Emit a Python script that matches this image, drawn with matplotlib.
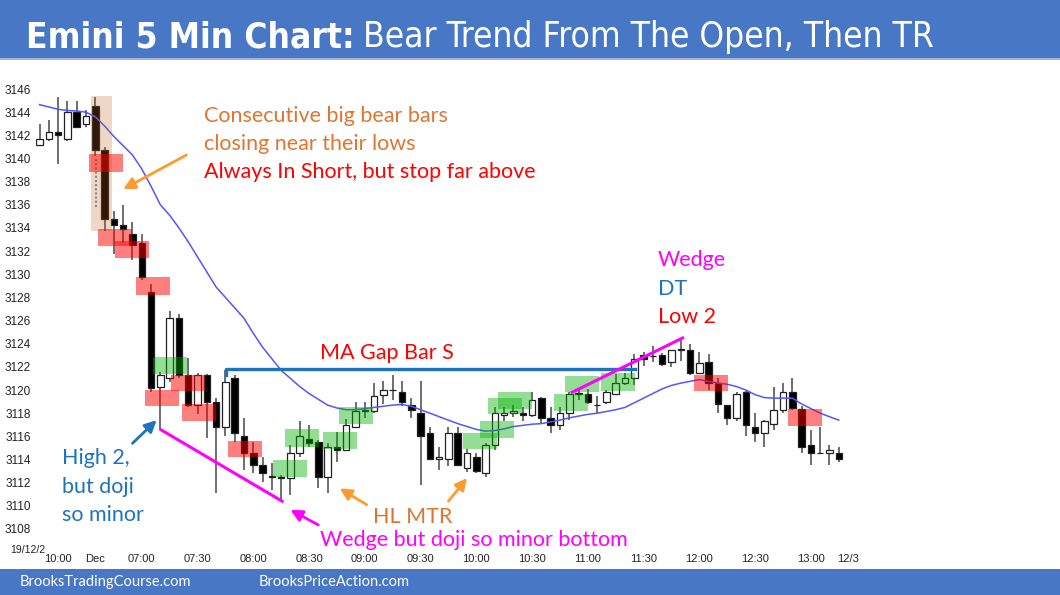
import matplotlib
matplotlib.use("Agg")
import matplotlib.pyplot as plt
from matplotlib import font_manager
from matplotlib.font_manager import FontProperties
from matplotlib.patches import Rectangle

# 5 min bars: 6 prior-session bars, then the Dec 2 day session
opens = [3141.2, 3141.7, 3142.3, 3141.7, 3144.0, 3143.0, 3144.5, 3140.7, 3134.75, 3134.25,
         3133.5, 3132.7, 3128.5, 3120.3, 3121.0, 3126.25, 3121.3, 3118.7, 3121.3, 3119.0,
         3116.85, 3121.0, 3116.0, 3114.55, 3113.55, 3112.5, 3112.4, 3112.4, 3114.6, 3115.75,
         3115.5, 3112.5, 3115.05, 3114.8, 3116.85, 3118.2, 3118.15, 3119.55, 3120.0, 3119.8,
         3118.75, 3118.0, 3116.25, 3114.05, 3114.05, 3116.25, 3113.25, 3114.25, 3112.8, 3115.25,
         3117.85, 3118.0, 3118.05, 3117.85, 3119.3, 3117.55, 3117.0, 3118.05, 3119.7, 3119.7,
         3118.7, 3119.0, 3119.7, 3120.6, 3121.0, 3123.0, 3122.9, 3123.0, 3122.45, 3123.5,
         3123.5, 3121.45, 3122.45, 3120.65, 3118.7, 3117.55, 3119.8, 3116.8, 3116.25, 3117.05,
         3118.25, 3119.8, 3118.35, 3115.25, 3114.55, 3114.55, 3114.55]
highs = [3143.0, 3143.3, 3145.3, 3145.0, 3145.0, 3144.2, 3145.3, 3141.0, 3135.5, 3136.0,
         3134.5, 3133.5, 3129.2, 3121.6, 3126.8, 3126.6, 3122.75, 3121.5, 3121.4, 3119.35,
         3121.75, 3121.3, 3117.55, 3115.55, 3114.25, 3113.7, 3112.7, 3115.25, 3117.3, 3117.0,
         3115.7, 3115.4, 3116.4, 3117.5, 3119.0, 3119.0, 3120.6, 3120.8, 3121.3, 3120.75,
         3119.3, 3120.75, 3116.85, 3115.1, 3116.85, 3116.85, 3114.9, 3114.55, 3115.4, 3118.55,
         3118.55, 3118.7, 3118.55, 3119.8, 3119.4, 3118.5, 3118.5, 3119.85, 3120.15, 3120.1,
         3119.5, 3120.0, 3121.4, 3121.5, 3123.15, 3123.3, 3123.8, 3123.2, 3123.5, 3124.5,
         3124.0, 3123.3, 3123.1, 3121.0, 3118.75, 3119.85, 3119.9, 3118.0, 3117.4, 3120.3,
         3120.65, 3121.0, 3118.6, 3116.55, 3116.85, 3115.25, 3115.05]
lows = [3141.2, 3141.5, 3139.5, 3141.5, 3142.7, 3142.7, 3140.2, 3133.7, 3131.75, 3132.7,
        3131.25, 3129.5, 3119.8, 3116.55, 3120.7, 3121.0, 3118.5, 3117.9, 3115.85, 3111.1,
        3116.0, 3115.55, 3113.1, 3112.8, 3112.1, 3111.4, 3110.4, 3110.95, 3114.25, 3115.1,
        3111.5, 3111.1, 3113.8, 3114.7, 3116.7, 3117.55, 3118.0, 3118.8, 3119.15, 3118.6,
        3117.55, 3111.8, 3114.0, 3113.1, 3113.4, 3113.4, 3112.95, 3112.8, 3112.5, 3114.8,
        3117.3, 3117.7, 3117.3, 3117.7, 3117.05, 3116.3, 3116.55, 3117.4, 3119.1, 3118.8,
        3118.0, 3118.8, 3119.6, 3120.45, 3120.45, 3122.1, 3122.45, 3122.1, 3122.0, 3122.55,
        3121.3, 3121.4, 3120.0, 3118.0, 3117.0, 3117.3, 3116.05, 3115.55, 3115.05, 3116.55,
        3118.0, 3118.3, 3114.55, 3113.55, 3114.5, 3113.55, 3113.8]
closes = [3141.7, 3142.3, 3142.0, 3144.0, 3142.75, 3143.7, 3140.75, 3134.8, 3134.25, 3133.9,
          3132.5, 3129.8, 3120.2, 3121.3, 3126.25, 3121.3, 3118.7, 3121.3, 3119.0, 3116.85,
          3120.7, 3116.25, 3114.55, 3113.55, 3112.8, 3112.5, 3112.45, 3114.55, 3116.0, 3115.45,
          3112.5, 3115.05, 3114.8, 3117.0, 3118.15, 3118.3, 3119.5, 3120.0, 3120.0, 3119.0,
          3118.25, 3116.0, 3114.05, 3114.25, 3116.25, 3113.55, 3114.55, 3113.0, 3115.25, 3118.0,
          3118.05, 3118.15, 3117.85, 3119.1, 3117.55, 3117.0, 3118.0, 3119.7, 3119.75, 3119.0,
          3118.75, 3119.8, 3120.6, 3121.0, 3122.65, 3122.7, 3122.9, 3122.25, 3123.45, 3123.5,
          3121.5, 3122.3, 3120.6, 3118.8, 3117.55, 3119.7, 3117.0, 3116.25, 3117.3, 3118.25,
          3119.8, 3118.45, 3115.05, 3114.55, 3114.55, 3114.8, 3114.05]
ma20 = [3144.65, 3144.45, 3144.25, 3144.15, 3144.1, 3144.0, 3143.6, 3142.8, 3141.9, 3141.1,
        3140.3, 3139.1, 3137.6, 3136.0, 3135.1, 3134.0, 3132.8, 3131.5, 3130.2, 3128.9,
        3128.0, 3127.1, 3126.2, 3124.9, 3123.7, 3122.7, 3121.7, 3121.0, 3120.3, 3119.7,
        3119.2, 3118.7, 3118.45, 3118.3, 3118.3, 3118.4, 3118.5, 3118.6, 3118.7, 3118.75,
        3118.6, 3118.3, 3118.0, 3117.7, 3117.4, 3117.1, 3116.85, 3116.6, 3116.45, 3116.5,
        3116.65, 3116.85, 3116.95, 3117.05, 3117.1, 3117.25, 3117.4, 3117.6, 3117.75, 3117.9,
        3118.0, 3118.15, 3118.3, 3118.5, 3118.9, 3119.3, 3119.7, 3120.1, 3120.4, 3120.6,
        3120.75, 3120.9, 3120.75, 3120.6, 3120.5, 3120.3, 3120.0, 3119.6, 3119.35, 3119.3,
        3119.3, 3119.3, 3118.8, 3118.4, 3118.0, 3117.7, 3117.4]

tick_bars = [2, 6, 11, 17, 23, 29, 35, 41, 47, 53, 59, 65, 71, 77, 83, 87]
tick_labels = ["10:00", "Dec", "07:00", "07:30", "08:00", "08:30", "09:00", "09:30",
               "10:00", "10:30", "11:00", "11:30", "12:00", "12:30", "13:00", "12/3"]
price_ticks = list(range(3108, 3147, 2))

# highlighted boxes: (bar, low, high)
red_boxes = [(7.1, 3138.85, 3140.4), (8.1, 3132.45, 3133.9), (10.0, 3131.4, 3132.85),
             (12.25, 3128.2, 3129.75), (13.2, 3118.6, 3120.0), (16.0, 3119.9, 3121.3),
             (17.2, 3117.3, 3118.8), (22.1, 3114.2, 3115.6), (72.3, 3119.9, 3121.3),
             (82.4, 3116.9, 3118.35)]
green_boxes = [(14.0, 3121.4, 3122.85), (27.0, 3112.5, 3114.0), (28.2, 3115.1, 3116.6),
               (32.3, 3114.9, 3116.4), (34.1, 3117.1, 3118.55), (47.4, 3114.9, 3116.3),
               (49.2, 3115.85, 3117.3), (50.1, 3117.95, 3119.35), (51.2, 3118.35, 3119.8),
               (57.2, 3118.2, 3119.65), (58.4, 3119.8, 3121.2), (62.2, 3119.95, 3121.45)]


def narrow_font(bold):
    # prefer a condensed face for the title, like the original
    want = 700 if bold else 400
    for name, stretch in [("Liberation Sans Narrow", None), ("DejaVu Sans", "condensed")]:
        for f in font_manager.fontManager.ttflist:
            if f.name != name or f.style != "normal":
                continue
            if stretch and f.stretch != stretch:
                continue
            w = f.weight if isinstance(f.weight, int) else (700 if "bold" in str(f.weight) else 400)
            if (w >= 600) == (want >= 600):
                return FontProperties(fname=f.fname)
    return FontProperties(family="Liberation Sans", weight="bold" if bold else "normal")


note_font = "Lato"
ORANGE_TXT = "#E07530"
ORANGE = "#FF9a30"
BLUE = "#1E73BE"
MAGENTA = "#FF00FF"
RED = "#FF0000"
BANNER = "#4777C5"

fig = plt.figure(figsize=(10.6, 5.95), dpi=100)
ax = fig.add_axes([36 / 1060, 1 - 535 / 595, 826 / 1060, 452 / 595])
ax.set_xlim(-0.38, 88.5)
ax.set_ylim(3107.48, 3146.52)
for s in ax.spines.values():
    s.set_visible(False)

# candles
for i in range(len(opens)):
    o, h, l, c = opens[i], highs[i], lows[i], closes[i]
    ax.vlines(i, l, h, color="#555555", lw=1.2, zorder=2)
    bottom = min(o, c)
    height = max(abs(c - o), 0.04)
    face = "black" if c < o else "white"
    ax.add_patch(Rectangle((i - 0.35, bottom), 0.7, height, facecolor=face,
                           edgecolor="#222222", lw=0.9, zorder=2.5))

ax.plot(range(len(ma20)), ma20, color="#5555ff", lw=1.1, zorder=3)

# bear bar highlight
ax.add_patch(Rectangle((5.5, 3133.7), 2.25, 11.7, facecolor="#c06018", alpha=0.25,
                       lw=0, zorder=3))
ax.vlines(6.1, 3135.8, 3140.0, color="#888888", lw=1.5, linestyles=(0, (1, 1)), zorder=3)

for b, lo, hi in red_boxes:
    ax.add_patch(Rectangle((b - 1.83, lo), 3.66, hi - lo, facecolor="#ff0000",
                           alpha=0.5, lw=0, zorder=3.5))
for b, lo, hi in green_boxes:
    ax.add_patch(Rectangle((b - 1.83, lo), 3.66, hi - lo, facecolor="#00b000",
                           alpha=0.42, lw=0, zorder=3.5))

# lines
ax.plot([20.1, 20.1, 64.1], [3121.3, 3121.8, 3121.8], color=BLUE, lw=2.4, zorder=4)
ax.plot([13.1, 26.1], [3116.55, 3110.4], color=MAGENTA, lw=2.2, zorder=4)
ax.plot([57.3, 69.2], [3119.8, 3124.5], color=MAGENTA, lw=2.2, zorder=4)


def arrow(tip, tail, color):
    ax.annotate("", xy=tip, xytext=tail, zorder=5, annotation_clip=False,
                arrowprops=dict(arrowstyle="-|>,head_length=0.7,head_width=0.35",
                                color=color, lw=2, shrinkA=0, shrinkB=0))


arrow((9.0, 3137.35), (15.8, 3140.3), ORANGE)
arrow((12.6, 3117.4), (10.0, 3115.4), BLUE)
arrow((27.0, 3109.65), (30.0, 3108.35), MAGENTA)
arrow((32.3, 3111.5), (35.2, 3110.1), ORANGE)
arrow((46.0, 3112.4), (44.0, 3110.4), ORANGE)

# notes
fs = 15.5


def note(x, y, s, color):
    ax.text(x, y, s, color=color, fontsize=fs, family=note_font, va="center",
            ha="left", zorder=6, clip_on=False)


note(17.7, 3143.67, "Consecutive big bear bars", ORANGE_TXT)
note(17.7, 3141.25, "closing near their lows", ORANGE_TXT)
note(17.7, 3138.83, "Always In Short, but stop far above", RED)
note(66.5, 3131.2, "Wedge", MAGENTA)
note(66.5, 3128.7, "DT", BLUE)
note(66.5, 3126.3, "Low 2", RED)
note(30.2, 3123.2, "MA Gap Bar S", RED)
note(2.4, 3114.1, "High 2,", BLUE)
note(2.4, 3111.65, "but doji", BLUE)
note(2.4, 3109.2, "so minor", BLUE)
note(35.9, 3109.05, "HL MTR", ORANGE_TXT)
note(30.2, 3107.05, "Wedge but doji so minor bottom", MAGENTA)

ax.set_yticks(price_ticks)
ax.set_xticks(tick_bars)
ax.set_xticklabels(tick_labels)
ax.tick_params(axis="y", length=0, pad=3.6, labelsize=8.5)
ax.tick_params(axis="x", length=0, pad=14, labelsize=8)
for lab in ax.get_xticklabels() + ax.get_yticklabels():
    lab.set_family("Liberation Sans")
    lab.set_color("#222222")

fig.text(10 / 1060, 1 - 550 / 595, "19/12/2", fontsize=7.5, family="Liberation Sans",
         color="#222222", va="center")

# banner and footer
fig.patches.append(Rectangle((0, 1 - 58 / 595), 1, 58 / 595, transform=fig.transFigure,
                             facecolor=BANNER, edgecolor="none", zorder=0))
fig.patches.append(Rectangle((0, 1 - 60 / 595), 1, 2 / 595, transform=fig.transFigure,
                             facecolor="#9db5e0", edgecolor="none", zorder=0))
fig.patches.append(Rectangle((0, 0), 1, 26 / 595, transform=fig.transFigure,
                             facecolor=BANNER, edgecolor="none", zorder=0))

# title: bold lead-in, then regular text; sized so it spans the same width as the original
bold_fp = narrow_font(True)
reg_fp = narrow_font(False)
title_y = 1 - 47 / 595
size = 29
t1 = fig.text(26 / 1060, title_y, "Emini 5 Min Chart:", color="white", fontsize=size,
              fontproperties=bold_fp, va="baseline")
t2 = fig.text(0, title_y, "Bear Trend From The Open, Then TR", color="white",
              fontsize=size, fontproperties=reg_fp, va="baseline")
for _ in range(2):
    t1.set_fontsize(size)
    t2.set_fontsize(size)
    fig.canvas.draw()
    bb = t1.get_window_extent()
    gap = size * 0.35
    t2.set_x((bb.x1 + gap) / 1060)
    fig.canvas.draw()
    total = t2.get_window_extent().x1 - bb.x0
    size = size * 907 / total

fig.text(20 / 1060, 1 - 582 / 595, "BrooksTradingCourse.com", color="white", fontsize=10.5,
         family=note_font, va="center")
fig.text(259 / 1060, 1 - 582 / 595, "BrooksPriceAction.com", color="white", fontsize=10.5,
         family=note_font, va="center")

fig.savefig("out.png", dpi=100)
